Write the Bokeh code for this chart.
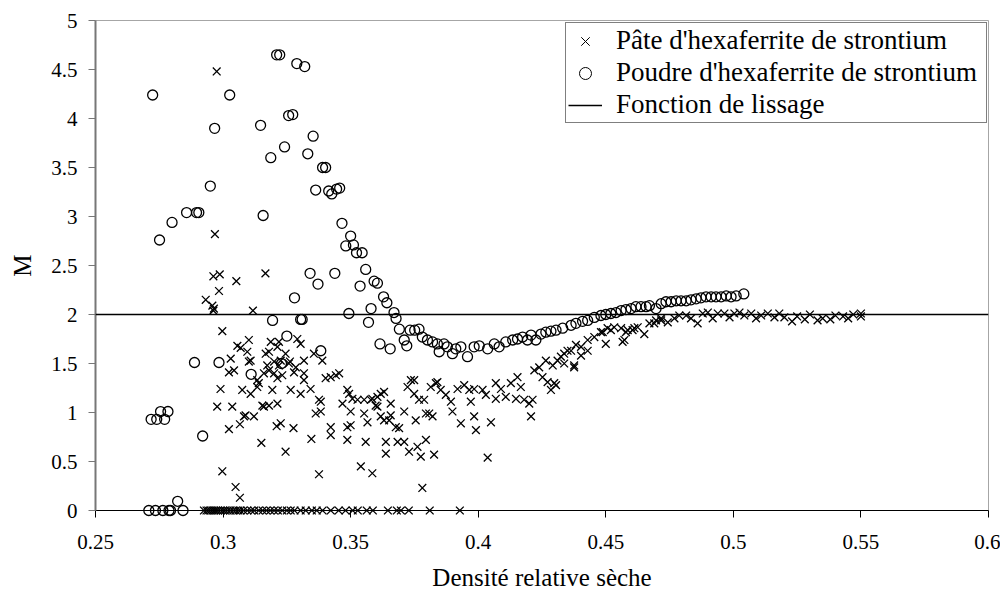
from bokeh.plotting import figure
from bokeh.models import Range1d, Span, Legend, LegendItem, ColumnDataSource, FixedTicker
from bokeh.embed import file_html
from bokeh.resources import INLINE

# ---------------- data ----------------
x_ticks = [0.25, 0.3, 0.35, 0.4, 0.45, 0.5, 0.55, 0.6]
x_tick_labels = ["0.25", "0.3", "0.35", "0.4", "0.45", "0.5", "0.55", "0.6"]
y_ticks = [0, 0.5, 1, 1.5, 2, 2.5, 3, 3.5, 4, 4.5, 5]
y_tick_labels = ["0", "0.5", "1", "1.5", "2", "2.5", "3", "3.5", "4", "4.5", "5"]

series_labels = ["Pâte d'hexaferrite de strontium",
                 "Poudre d'hexaferrite de strontium",
                 "Fonction de lissage"]
x_label = "Densité relative sèche"
y_label = "M"

smoothing_value = 2.0

paste_x = [
    0.2975, 0.2968, 0.2962, 0.2987, 0.3052, 0.3166, 0.2984, 0.2932, 0.2958, 0.2964, 0.2962, 0.3117, 0.2997,
    0.3056, 0.3069, 0.3101, 0.3095, 0.3030, 0.3043, 0.3023, 0.3108, 0.2990, 0.2977, 0.3036, 0.3082, 0.3121,
    0.3023, 0.3066, 0.3150, 0.3245, 0.3210, 0.3226, 0.3276, 0.3154, 0.3180, 0.3213, 0.3134, 0.3140, 0.3180,
    0.3200, 0.3180, 0.3187, 0.3219, 0.3226, 0.3200, 0.3258, 0.3213, 0.3265, 0.3304, 0.3291, 0.3285, 0.3317,
    0.2997, 0.3049, 0.3066,
    0.3213, 0.3304, 0.3245, 0.3167, 0.3101, 0.3173, 0.3219, 0.3262, 0.3317, 0.3356, 0.3389, 0.3160, 0.3232,
    0.3278, 0.3317, 0.3402, 0.3422, 0.3442, 0.3455, 0.3075, 0.3108, 0.3134, 0.3193, 0.3343, 0.3376, 0.3088,
    0.3160, 0.3363, 0.3383, 0.3346, 0.3422, 0.3487, 0.3487, 0.3500, 0.3494, 0.3507, 0.3527, 0.3553, 0.3579,
    0.3605, 0.3631, 0.3487, 0.3468, 0.3500, 0.3553, 0.3566, 0.3605, 0.3631, 0.3657, 0.3677, 0.3638, 0.3638,
    0.3559, 0.3684, 0.3540, 0.3585, 0.3376,
    0.3383, 0.3422, 0.3585, 0.3618, 0.3598, 0.3618, 0.3657, 0.3651, 0.3690, 0.3710, 0.3736, 0.3723, 0.3749,
    0.3768, 0.3755, 0.3795, 0.3710, 0.3729, 0.3775, 0.3762, 0.3795, 0.3781,
    0.3834, 0.3853, 0.3814, 0.3873, 0.3893, 0.3899, 0.3821, 0.3932, 0.3919, 0.3945, 0.3965, 0.3971, 0.3984,
    0.3991, 0.4017, 0.4030, 0.4050, 0.4037, 0.4069, 0.4089, 0.4069, 0.4108, 0.4128, 0.4154, 0.4167, 0.4148,
    0.4180, 0.4200, 0.4213, 0.4207, 0.4220, 0.4239, 0.4252, 0.4272, 0.4285, 0.4305, 0.4265, 0.4292, 0.4311,
    0.4324, 0.4337, 0.4350, 0.4337, 0.3984, 0.3827, 0.3749, 0.3840, 0.3788, 0.3808,
    0.4298, 0.4364, 0.4403, 0.4429, 0.4455, 0.4488, 0.4507, 0.4533, 0.4560, 0.4586, 0.4612, 0.4651, 0.4573,
    0.4500, 0.4376, 0.4690, 0.4717, 0.4743, 0.4769, 0.4788, 0.4429, 0.4403,
    0.4376, 0.4383, 0.4481, 0.4520, 0.4566, 0.4579, 0.4605, 0.4625, 0.4671, 0.4697, 0.4717, 0.4815, 0.4834,
    0.4860, 0.4880, 0.4900, 0.4919, 0.4939, 0.4965, 0.4985, 0.5004, 0.5024, 0.5043, 0.5070, 0.5089, 0.5109,
    0.5135, 0.5161, 0.5180,
    0.5200, 0.5230, 0.5250, 0.5280, 0.5300, 0.5330, 0.5350, 0.5380, 0.5400, 0.5430, 0.5450, 0.5470, 0.5500,
    0.5500,
    # points lying on M = 0
    0.2925, 0.2935, 0.2942, 0.2950, 0.2958, 0.2965, 0.2972, 0.2980, 0.2990, 0.3000, 0.3008, 0.3018, 0.3028,
    0.3040, 0.3050, 0.3060, 0.3068, 0.3080, 0.3095, 0.3110, 0.3122, 0.3140, 0.3155, 0.3170, 0.3185, 0.3200,
    0.3215, 0.3232, 0.3250, 0.3265, 0.3280, 0.3304, 0.3324, 0.3348, 0.3367, 0.3390, 0.3422, 0.3453, 0.3480,
    0.3508, 0.3528, 0.3563, 0.3587, 0.3646, 0.3681, 0.3697, 0.3728, 0.3810, 0.3928,
]
paste_y = [
    4.48, 2.82, 2.39, 2.41, 2.34, 2.42, 2.24, 2.15, 2.09, 2.06, 2.04, 2.04, 1.83,
    1.68, 1.66, 1.74, 1.62, 1.55, 1.43, 1.41, 1.53, 1.24, 1.06, 1.06, 0.96, 0.96,
    0.83, 0.88, 0.69, 0.60, 0.86, 0.89, 0.84, 1.07, 1.07, 1.09, 1.33, 1.30, 1.43,
    1.40, 1.62, 1.72, 1.72, 1.53, 1.52, 1.50, 1.35, 1.23, 1.19, 1.75, 1.46, 1.33,
    0.40, 0.24, 0.13,
    1.67, 1.70, 1.60, 1.60, 1.52, 1.48, 1.48, 1.52, 1.53, 1.60, 1.53, 1.40, 1.38,
    1.41, 1.40, 1.35, 1.36, 1.38, 1.40, 1.23, 1.19, 1.26, 1.23, 1.24, 1.13, 0.97,
    1.06, 0.99, 1.01, 0.73, 0.77, 0.85, 0.72, 0.87, 1.19, 1.14, 1.13, 1.13, 1.13,
    1.16, 1.21, 1.23, 1.09, 1.01, 0.99, 0.90, 1.06, 0.92, 0.97, 0.85, 0.70, 0.58,
    0.70, 0.70, 0.45, 0.38, 0.37,
    1.11, 0.85, 1.14, 1.19, 1.07, 0.96, 1.09, 0.92, 0.84, 1.01, 1.33, 1.26, 1.19,
    1.13, 0.92, 0.99, 0.70, 0.60, 0.55, 0.65, 0.72, 0.23,
    1.30, 1.23, 1.26, 1.18, 1.11, 1.01, 0.96, 0.89, 1.24, 1.28, 1.23, 1.11, 0.96,
    0.82, 1.23, 1.18, 0.90, 0.54, 1.30, 1.24, 1.14, 1.16, 1.30, 1.36, 1.26, 1.14,
    1.13, 1.09, 1.13, 0.96, 1.43, 1.46, 1.36, 1.31, 1.23, 1.28, 1.53, 1.48, 1.53,
    1.57, 1.60, 1.63, 1.50, 1.24, 0.57, 1.33, 1.31, 1.13, 0.99,
    1.30, 1.63, 1.67, 1.74, 1.77, 1.82, 1.86, 1.87, 1.86, 1.84, 1.86, 1.80, 1.74,
    1.70, 1.48, 1.91, 1.94, 1.92, 1.96, 1.99, 1.63, 1.58,
    1.46, 1.69, 1.82, 1.84, 1.72, 1.82, 1.84, 1.87, 1.91, 1.94, 1.96, 1.99, 1.96,
    1.91, 2.01, 2.02, 1.96, 2.01, 2.01, 1.97, 2.01, 2.02, 1.99, 2.01, 1.96, 1.99,
    2.01, 1.97, 2.01,
    1.97, 1.93, 1.98, 1.95, 2.00, 1.94, 1.96, 1.95, 1.99, 1.98, 1.96, 2.00, 1.98,
    2.01,
    0, 0, 0, 0, 0, 0, 0, 0, 0, 0, 0, 0, 0,
    0, 0, 0, 0, 0, 0, 0, 0, 0, 0, 0, 0, 0,
    0, 0, 0, 0, 0, 0, 0, 0, 0, 0, 0, 0, 0,
    0, 0, 0, 0, 0, 0, 0, 0, 0, 0,
]

powder_x = [
    0.2724, 0.2967, 0.3026, 0.2950, 0.3147, 0.3210, 0.3222, 0.3187, 0.3241, 0.3257, 0.3273, 0.3289, 0.3320,
    0.3332, 0.3353, 0.3390, 0.3402, 0.3363, 0.3414, 0.3426, 0.3445, 0.3457,
    0.2751, 0.2800, 0.2857, 0.2896, 0.2905, 0.3157, 0.3280, 0.3341, 0.3372, 0.3438, 0.3466, 0.3500, 0.3481,
    0.3511, 0.3523, 0.3545, 0.3559, 0.3537, 0.3592, 0.3605, 0.3629, 0.3642, 0.3580, 0.3493, 0.3570, 0.3670,
    0.3194, 0.3304, 0.3310, 0.3678,
    0.3691, 0.3710, 0.3720, 0.3615, 0.3655, 0.3733, 0.3751, 0.3768, 0.3781, 0.3801, 0.3821, 0.3383,
    0.3250, 0.2888, 0.2984, 0.3110, 0.3229, 0.2920,
    0.2718, 0.2740, 0.2771, 0.2755, 0.2784,
    0.2709, 0.2735, 0.2764, 0.2788, 0.2794, 0.2843, 0.2822,
    0.3847, 0.3840, 0.3866, 0.3879, 0.3899, 0.3912, 0.3932, 0.3958, 0.3984, 0.4004, 0.4037, 0.4063, 0.4082,
    0.4108, 0.4135, 0.4154, 0.4174, 0.4193, 0.4207, 0.4226, 0.4246, 0.4265, 0.4285, 0.4305, 0.4331,
    0.4364, 0.4383, 0.4409, 0.4429, 0.4455, 0.4481, 0.4500, 0.4520, 0.4540, 0.4560, 0.4579, 0.4599, 0.4618,
    0.4638, 0.4658, 0.4671, 0.4697, 0.4717, 0.4736, 0.4756, 0.4776, 0.4795, 0.4815, 0.4834, 0.4854, 0.4873,
    0.4893, 0.4913, 0.4932, 0.4952, 0.4972, 0.4991, 0.5011, 0.5041,
]
powder_y = [
    4.24, 3.90, 4.24, 3.31, 3.93, 4.65, 4.65, 3.60, 3.71, 4.03, 4.04, 4.56, 4.53,
    3.64, 3.82, 3.50, 3.50, 3.27, 3.26, 3.23, 3.28, 3.29,
    2.76, 2.94, 3.04, 3.04, 3.04, 3.01, 2.17, 2.42, 2.31, 2.42, 2.93, 2.80, 2.70,
    2.71, 2.63, 2.63, 2.46, 2.29, 2.34, 2.32, 2.18, 2.12, 2.06, 2.01, 1.92, 2.02,
    1.94, 1.95, 1.95, 1.96,
    1.85, 1.74, 1.68, 1.70, 1.65, 1.84, 1.84, 1.85, 1.77, 1.74, 1.72, 1.63,
    1.78, 1.51, 1.51, 1.39, 1.50, 0.76,
    0.93, 0.93, 0.93, 1.01, 1.01,
    0, 0, 0, 0, 0, 0, 0.094,
    1.62, 1.70, 1.70, 1.67, 1.60, 1.65, 1.67, 1.57, 1.67, 1.68, 1.65, 1.70, 1.67,
    1.72, 1.74, 1.75, 1.77, 1.74, 1.79, 1.74, 1.80, 1.82, 1.83, 1.84, 1.86,
    1.89, 1.91, 1.93, 1.94, 1.97, 1.99, 2.00, 2.01, 2.02, 2.04, 2.05, 2.06, 2.08,
    2.08, 2.08, 2.09, 2.06, 2.11, 2.13, 2.13, 2.14, 2.14, 2.14, 2.15, 2.16, 2.17,
    2.18, 2.18, 2.18, 2.18, 2.19, 2.18, 2.19, 2.21,
]

# ---------------- figure ----------------
FONT = "Liberation Serif"

p = figure(width=1000, height=598, output_backend="svg", toolbar_location=None,
           x_range=Range1d(x_ticks[0], x_ticks[-1]), y_range=Range1d(y_ticks[0], y_ticks[-1]),
           min_border_left=95, min_border_right=12, min_border_top=20, min_border_bottom=88)
p.background_fill_color = "white"
p.border_fill_color = "white"
p.outline_line_color = "#a6a6a6"
p.outline_line_width = 1
p.xgrid.visible = False
p.ygrid.visible = False

for ax, ticks, labels in ((p.xaxis[0], x_ticks, x_tick_labels), (p.yaxis[0], y_ticks, y_tick_labels)):
    ax.ticker = FixedTicker(ticks=ticks)
    ax.major_label_overrides = {t: l for t, l in zip(ticks, labels)}
    ax.minor_tick_line_color = None
    ax.major_tick_in = 0
    ax.major_tick_out = 7
    ax.major_label_text_font = FONT
    ax.major_label_text_font_size = "21px"
    ax.major_label_text_font_style = "normal"
    ax.major_label_text_color = "black"
    ax.axis_label_text_font = FONT
    ax.axis_label_text_font_size = "25px"
    ax.axis_label_text_font_style = "normal"
    ax.axis_label_text_color = "black"

p.xaxis.axis_label = x_label
p.yaxis.axis_label = y_label
p.xaxis.axis_line_color = "black"
p.xaxis.major_tick_line_color = "black"
p.xaxis.major_label_standoff = 17
p.xaxis.axis_label_standoff = 12
p.yaxis.axis_line_color = "#777777"
p.yaxis.axis_line_width = 2
p.yaxis.major_tick_line_color = "#777777"
p.yaxis.major_label_standoff = 11
p.yaxis.axis_label_standoff = 12

# smoothing function (constant)
p.add_layout(Span(location=smoothing_value, dimension="width", line_color="black", line_width=1.5))

src_paste = ColumnDataSource(dict(x=paste_x, y=paste_y))
src_powder = ColumnDataSource(dict(x=powder_x, y=powder_y))
p.scatter("x", "y", source=src_paste, marker="x", size=11, line_color="black", line_width=1.3,
          level="overlay")
p.scatter("x", "y", source=src_powder, marker="circle", size=10, line_color="black",
          fill_color=None, line_width=1.3, level="overlay")

# legend (small glyphs, as in the original); dummy renderers hold one point outside the view
far = ColumnDataSource(dict(x=[-10.0], y=[-10.0]))
lg_x = p.scatter("x", "y", source=far, marker="x", size=8, line_color="black", line_width=1)
lg_o = p.scatter("x", "y", source=far, marker="circle", size=7, line_color="black",
                 fill_color=None, line_width=1)
lg_l = p.line("x", "y", source=far, line_color="black", line_width=1.5)
legend = Legend(items=[LegendItem(label=series_labels[0], renderers=[lg_x]),
                       LegendItem(label=series_labels[1], renderers=[lg_o]),
                       LegendItem(label=series_labels[2], renderers=[lg_l])],
                location=(470, 387))
legend.label_text_font = FONT
legend.label_text_font_size = "27px"
legend.label_text_color = "black"
legend.border_line_color = "black"
legend.border_line_width = 1
legend.background_fill_color = "white"
legend.background_fill_alpha = 1
legend.padding = 2
legend.spacing = 1
legend.margin = 0
legend.glyph_width = 34
legend.glyph_height = 30
legend.label_height = 30
legend.label_width = 368
legend.label_standoff = 14
p.add_layout(legend)

open("out.html", "w").write(file_html(p, INLINE))
